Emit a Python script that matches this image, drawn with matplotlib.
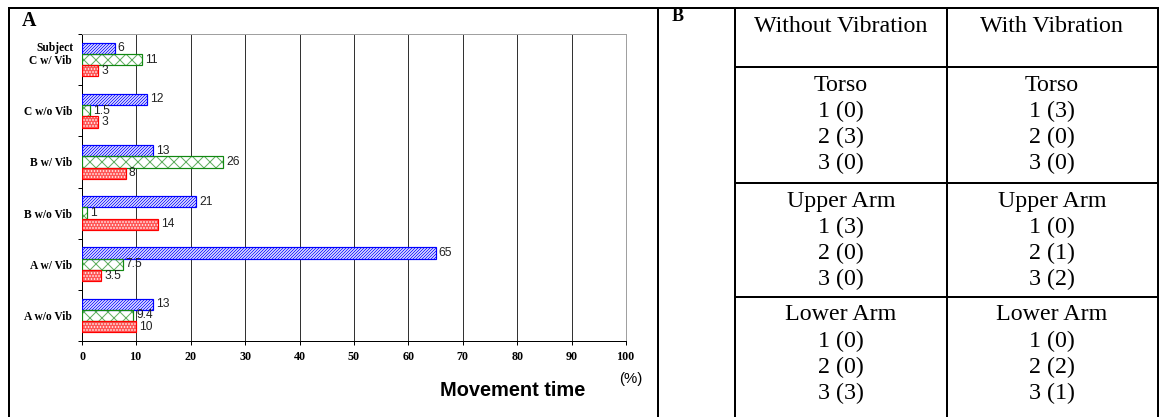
# -----------------------------------------------------------------------------
# Imports
# -----------------------------------------------------------------------------

import numpy as np
import matplotlib

matplotlib.use("Agg")
import matplotlib.pyplot as plt
from matplotlib import rcParams

rcParams["hatch.linewidth"] = 1.0

# -----------------------------------------------------------------------------
# Data
# -----------------------------------------------------------------------------

# panel A, bottom to top
categories = ["A w/o Vib", "A w/ Vib", "B w/o Vib", "B w/ Vib", "C w/o Vib", "C w/ Vib"]
blue_vals = [13, 65, 21, 13, 12, 6]
green_vals = [9.4, 7.5, 1, 26, 1.5, 11]
red_vals = [10, 3.5, 14, 8, 3, 3]
x_ticks = list(range(0, 101, 10))

# panel B
table_columns = ["Without Vibration", "With Vibration"]
body_parts = ["Torso", "Upper Arm", "Lower Arm"]
without_vib = [["1 (0)", "2 (3)", "3 (0)"], ["1 (3)", "2 (0)", "3 (0)"], ["1 (0)", "2 (0)", "3 (3)"]]
with_vib = [["1 (3)", "2 (0)", "3 (0)"], ["1 (0)", "2 (1)", "3 (2)"], ["1 (0)", "2 (2)", "3 (1)"]]

W, H, DPI = 1161, 417, 72
SERIF = "Liberation Serif"
SANS = "Liberation Sans"


# -----------------------------------------------------------------------------
# Functions
# -----------------------------------------------------------------------------


def px_rect(left, top, right, bottom):
    return [left / W, 1 - bottom / H, (right - left) / W, (bottom - top) / H]


def hatched_barh(ax, y, vals, bh, face, hatch_color, edge, hatch):
    ax.barh(y, vals, height=bh, color=face, edgecolor=hatch_color, hatch=hatch, lw=0, zorder=2)
    ax.barh(y, vals, height=bh, color="none", edgecolor=edge, lw=1.2, zorder=3)
    for yy, v in zip(y, vals):
        ax.annotate(f"{v:g}", (v, yy), xytext=(3, 0), textcoords="offset points",
                    va="center", ha="left", fontsize=12, family=SANS, color="#222222")


def draw_bars(ax):
    y = np.arange(len(categories))
    bh = 0.22
    hatched_barh(ax, y + bh, blue_vals, bh, "white", "#2020ff", "#0000ff", "////////")
    hatched_barh(ax, y, green_vals, bh, "white", "#5fae5f", "#118811", "xx")
    hatched_barh(ax, y - bh, red_vals, bh, "#ff5555", "white", "#ff0000", "....")

    ax.set_xlim(0, 100)
    ax.set_ylim(-0.5, len(categories) - 0.5)
    ax.set_xticks(x_ticks)
    ax.set_xticklabels([str(t) for t in x_ticks], family=SERIF, weight="bold", fontsize=12)
    ax.tick_params(axis="x", length=4, pad=6, width=1)
    ax.set_yticks(np.arange(-0.5, len(categories), 1))
    ax.set_yticklabels([])
    ax.tick_params(axis="y", which="major", length=4, width=1)
    ax.set_yticks(y, minor=True)
    ax.set_yticklabels(categories, minor=True, family=SERIF, weight="bold", fontsize=11.5)
    ax.tick_params(axis="y", which="minor", length=0, pad=10)

    ax.xaxis.grid(True, color="#333333", lw=1)
    ax.set_axisbelow(True)
    for side in ["left", "bottom"]:
        ax.spines[side].set_color("black")
        ax.spines[side].set_linewidth(1)
    for side in ["top", "right"]:
        ax.spines[side].set_color("#a0a0a0")
        ax.spines[side].set_linewidth(1)


def draw_layout(ov):
    ov.set_xlim(0, W)
    ov.set_ylim(H, 0)
    ov.axis("off")
    lw = 2
    # frames
    ov.plot([9, 1158], [8, 8], color="black", lw=lw)
    for x in [9, 658, 735, 947, 1158]:
        ov.plot([x, x], [8, H], color="black", lw=lw)
    for yl in [67, 183, 297]:
        ov.plot([735, 1158], [yl, yl], color="black", lw=lw)

    # panel A labels
    ov.text(22, 21, "A", family=SERIF, weight="bold", fontsize=20, ha="left", va="center")
    ov.text(74, 48, "Subject", family=SERIF, weight="bold", fontsize=11.5, ha="right", va="center")
    ov.text(513, 390, "Movement time", family=SANS, weight="bold", fontsize=20, ha="center", va="center")
    ov.text(631, 379, "(%)", family=SANS, fontsize=15, ha="center", va="center")

    # panel B table
    ov.text(672, 16, "B", family=SERIF, weight="bold", fontsize=18, ha="left", va="center")
    col_x = [841, 1052]
    tops = [67, 183, 297]
    for cx, name, rows in zip(col_x, table_columns, [without_vib, with_vib]):
        ov.text(cx, 26, name, family=SERIF, fontsize=24, ha="center", va="center")
        for top, part, lines in zip(tops, body_parts, rows):
            for k, txt in enumerate([part] + lines):
                ov.text(cx, top + 18 + 26.3 * k, txt, family=SERIF, fontsize=24,
                        ha="center", va="center")


# -----------------------------------------------------------------------------
# Main
# -----------------------------------------------------------------------------


def main() -> None:
    fig = plt.figure(figsize=(W / DPI, H / DPI), dpi=DPI)
    ov = fig.add_axes([0, 0, 1, 1])
    ov.patch.set_alpha(0)
    ax = fig.add_axes(px_rect(82, 34, 626, 341))
    draw_bars(ax)
    draw_layout(ov)
    fig.savefig("out.png", dpi=DPI)


if __name__ == "__main__":
    main()
